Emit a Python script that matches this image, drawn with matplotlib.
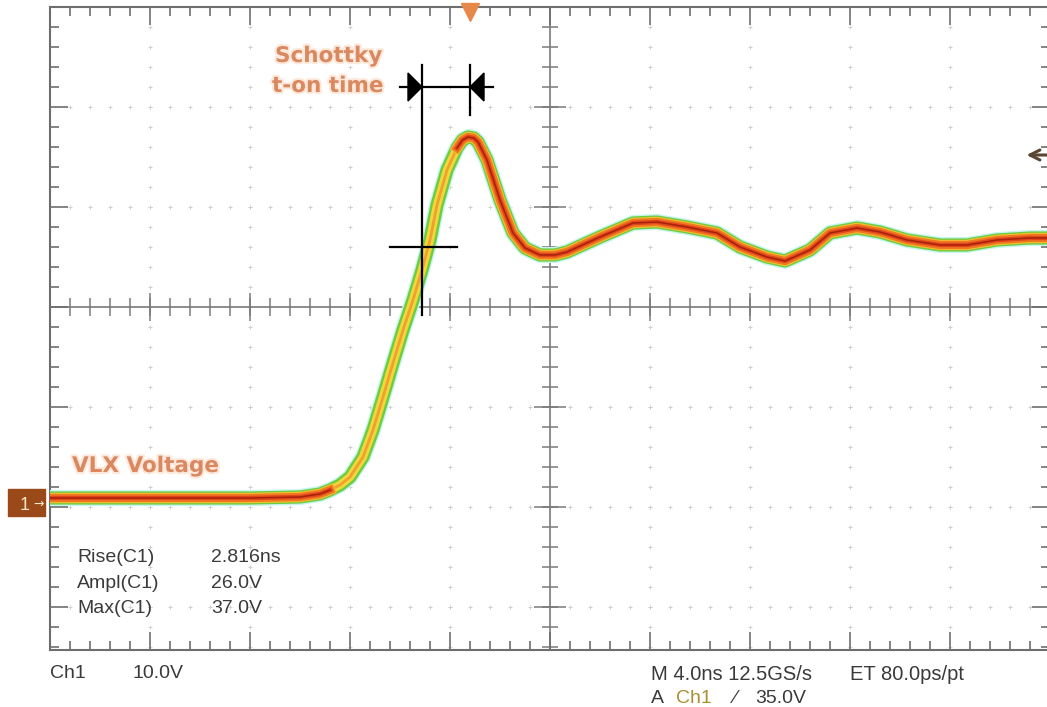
import numpy as np
import matplotlib.pyplot as plt
from matplotlib.patches import Polygon, Rectangle
from matplotlib import patheffects as pe

# trace: time from left edge (ns), voltage (V)
t_ns = [0.0, 4.0, 8.0, 10.0, 10.8, 11.2, 11.6, 12.0, 12.52, 12.92, 13.32,
        13.72, 14.12, 14.52, 14.88, 15.2, 15.48, 15.88, 16.28, 16.5, 16.72,
        16.95, 17.12, 17.48, 18.0, 18.52, 19.0, 19.6, 20.2, 20.68, 22.0,
        23.32, 24.28, 25.48, 26.68, 27.6, 28.68, 29.4, 30.4, 31.2, 32.28,
        33.2, 34.28, 35.6, 36.68, 37.88, 39.2, 40.0]
volts = [0.9, 0.9, 0.9, 1.0, 1.3, 1.7, 2.2, 3.0, 5.0, 7.7, 11.0,
         14.4, 17.7, 20.7, 23.7, 26.7, 30.2, 33.7, 35.9, 36.7, 37.0,
         36.9, 36.5, 34.7, 30.7, 27.4, 25.9, 25.2, 25.2, 25.5, 27.0,
         28.4, 28.5, 28.0, 27.4, 26.0, 25.0, 24.6, 25.7, 27.4, 27.9,
         27.5, 26.7, 26.2, 26.2, 26.7, 26.9, 26.9]

meas_names = ['Rise(C1)', 'Ampl(C1)', 'Max(C1)']
meas_values = ['2.816ns', '26.0V', '37.0V']

W, H = 1047, 707
fig = plt.figure(figsize=(W / 100, H / 100), dpi=100)
fig.patch.set_facecolor('white')

def fx(x):
    return x / W

def fy(y):
    return 1 - y / H

# screen: 4 ns/div, 10 V/div, 100 px per division
ax = fig.add_axes([fx(50), fy(650), 1000 / W, 643 / H])
ax.set_xlim(0, 40)
ax.set_ylim(-14.3, 50)
ax.set_facecolor('white')

gcol = '#6e6e6e'
for s in ax.spines.values():
    s.set_color(gcol)
    s.set_linewidth(1.5)

ax.set_xticks(np.arange(0, 40.1, 4))
ax.set_xticks(np.arange(0, 40.1, 0.8), minor=True)
ax.set_yticks(np.arange(-10, 50.1, 10))
ax.set_yticks(np.arange(-14, 50.1, 2), minor=True)
ax.tick_params(which='both', direction='in', top=True, right=True,
               labelbottom=False, labelleft=False, color=gcol, width=1.2)
ax.tick_params(which='major', length=13)
ax.tick_params(which='minor', length=6.5)

# dotted graticule
xs_minor = np.arange(0.8, 40, 0.8)
ys_minor = np.arange(-14, 50, 2)
for xv in [4, 8, 12, 16, 24, 28, 32, 36]:
    ax.plot([xv] * len(ys_minor), ys_minor, ls='none', marker='+', ms=3,
            mew=0.7, color='#cfcfcf', zorder=1)
for yv in [-10, 0, 10, 30, 40]:
    ax.plot(xs_minor, [yv] * len(xs_minor), ls='none', marker='+', ms=3,
            mew=0.7, color='#cfcfcf', zorder=1)

# centre cross with its tick marks
ax.axhline(20, color='#7a7a7a', lw=1.2, zorder=1)
ax.axvline(20, color='#7a7a7a', lw=1.2, zorder=1)
ax.plot(xs_minor, [20] * len(xs_minor), ls='none', marker='|', ms=13,
        mew=1.1, color='#7a7a7a', zorder=1)
ax.plot(np.arange(4, 40, 4), [20] * 9, ls='none', marker='|', ms=20,
        mew=1.1, color='#7a7a7a', zorder=1)
ax.plot([20] * len(ys_minor), ys_minor, ls='none', marker='_', ms=12,
        mew=1.1, color='#7a7a7a', zorder=1)
ax.plot([20] * 6, np.arange(-10, 50, 10), ls='none', marker='_', ms=23,
        mew=1.1, color='#7a7a7a', zorder=1)

# persistence trace
t = np.array(t_ns)
v = np.array(volts)
ax.plot(t, v, color='#c6f5ee', lw=11.5, solid_capstyle='round',
        solid_joinstyle='round', zorder=3)
ax.plot(t, v, color='#6fcc40', lw=9.5, solid_capstyle='round',
        solid_joinstyle='round', zorder=3)
ax.plot(t, v, color='#f0d83a', lw=6, solid_capstyle='round',
        solid_joinstyle='round', zorder=3)
rise = (t >= 11.2) & (t <= 16.3)
ax.plot(t[rise], v[rise], color='#f0a030', lw=2, zorder=4,
        solid_joinstyle='round')
for part in [t <= 11.2, t >= 16.28]:
    ax.plot(t[part], v[part], color='#f7c030', lw=7.5, zorder=4,
            solid_joinstyle='round')
    ax.plot(t[part], v[part], color='#f07a22', lw=6, zorder=4,
            solid_joinstyle='round')
    ax.plot(t[part], v[part], color='#e0461a', lw=3.2, zorder=4,
            solid_joinstyle='round')
    ax.plot(t[part], v[part], color='#a8200e', lw=1.1, zorder=4,
            solid_joinstyle='round')

# rise-time markers
ax.plot([14.88, 14.88], [44.2, 19.2], color='black', lw=1.6, zorder=5)
ax.plot([16.8, 16.8], [44.2, 39.2], color='black', lw=1.6, zorder=5)
ax.plot([14.0, 17.72], [42.0, 42.0], color='black', lw=1.6, zorder=5)
ax.plot([13.6, 16.28], [26.0, 26.0], color='black', lw=1.6, zorder=5)
ax.add_patch(Polygon([[14.88, 42.0], [14.32, 43.4], [14.32, 40.6]],
                     closed=True, color='black', zorder=5))
ax.add_patch(Polygon([[16.8, 42.0], [17.36, 43.4], [17.36, 40.6]],
                     closed=True, color='black', zorder=5))

# trigger position and trigger level markers
ax.plot(16.8, 49.5, marker='v', ms=13, color='#e8874a', clip_on=False,
        zorder=6)
ax.annotate('', xy=(38.95, 35.2), xytext=(40.0, 35.2),
            arrowprops=dict(arrowstyle='->', color='#5a4632', lw=2.2,
                            mutation_scale=18), annotation_clip=False)

# channel 1 ground marker
fig.patches.append(Rectangle((fx(8), fy(516)), 37 / W, 27 / H,
                             transform=fig.transFigure, color='#9a4a18',
                             zorder=5))
fig.text(fx(20), fy(510), '1', color='#f4e4c8', fontsize=13,
         family='Liberation Sans', ha='left', va='baseline', zorder=6)
fig.text(fx(33), fy(508), '→', color='#f4e4c8', fontsize=9,
         family='DejaVu Sans', ha='left', va='baseline', zorder=6)

# orange labels
lab = dict(color='#d98860', fontsize=15.5, fontweight='bold',
           family='DejaVu Sans', ha='left', va='baseline',
           path_effects=[pe.withStroke(linewidth=3, foreground='#fde9dc')])
fig.text(fx(275), fy(62), 'Schottky', **lab)
fig.text(fx(272), fy(92), 't-on time', **lab)
fig.text(fx(72), fy(472), 'VLX Voltage', **lab)

# measurements
txt = dict(color='#3a3a3a', fontsize=14, family='Liberation Sans',
           ha='left', va='baseline')
for i in range(len(meas_names)):
    yb = 562 + 25.5 * i
    fig.text(fx(77), fy(yb), meas_names[i], **txt)
    fig.text(fx(211), fy(yb), meas_values[i], **txt)

# status bar
fig.text(fx(50), fy(678), 'Ch1', **txt)
fig.text(fx(132), fy(678), '10.0V', **txt)
fig.text(fx(651), fy(680), 'M 4.0ns 12.5GS/s', **dict(txt, fontsize=14.5))
fig.text(fx(850), fy(680), 'ET 80.0ps/pt', **dict(txt, fontsize=14.5))
fig.text(fx(651), fy(703), 'A', **txt)
fig.text(fx(676), fy(703), 'Ch1', **dict(txt, color='#a89030'))
fig.text(fx(734), fy(703), '⁄', **txt)
fig.text(fx(755), fy(703), '35.0V', **txt)

fig.savefig('out.png', dpi=100, facecolor='white')
